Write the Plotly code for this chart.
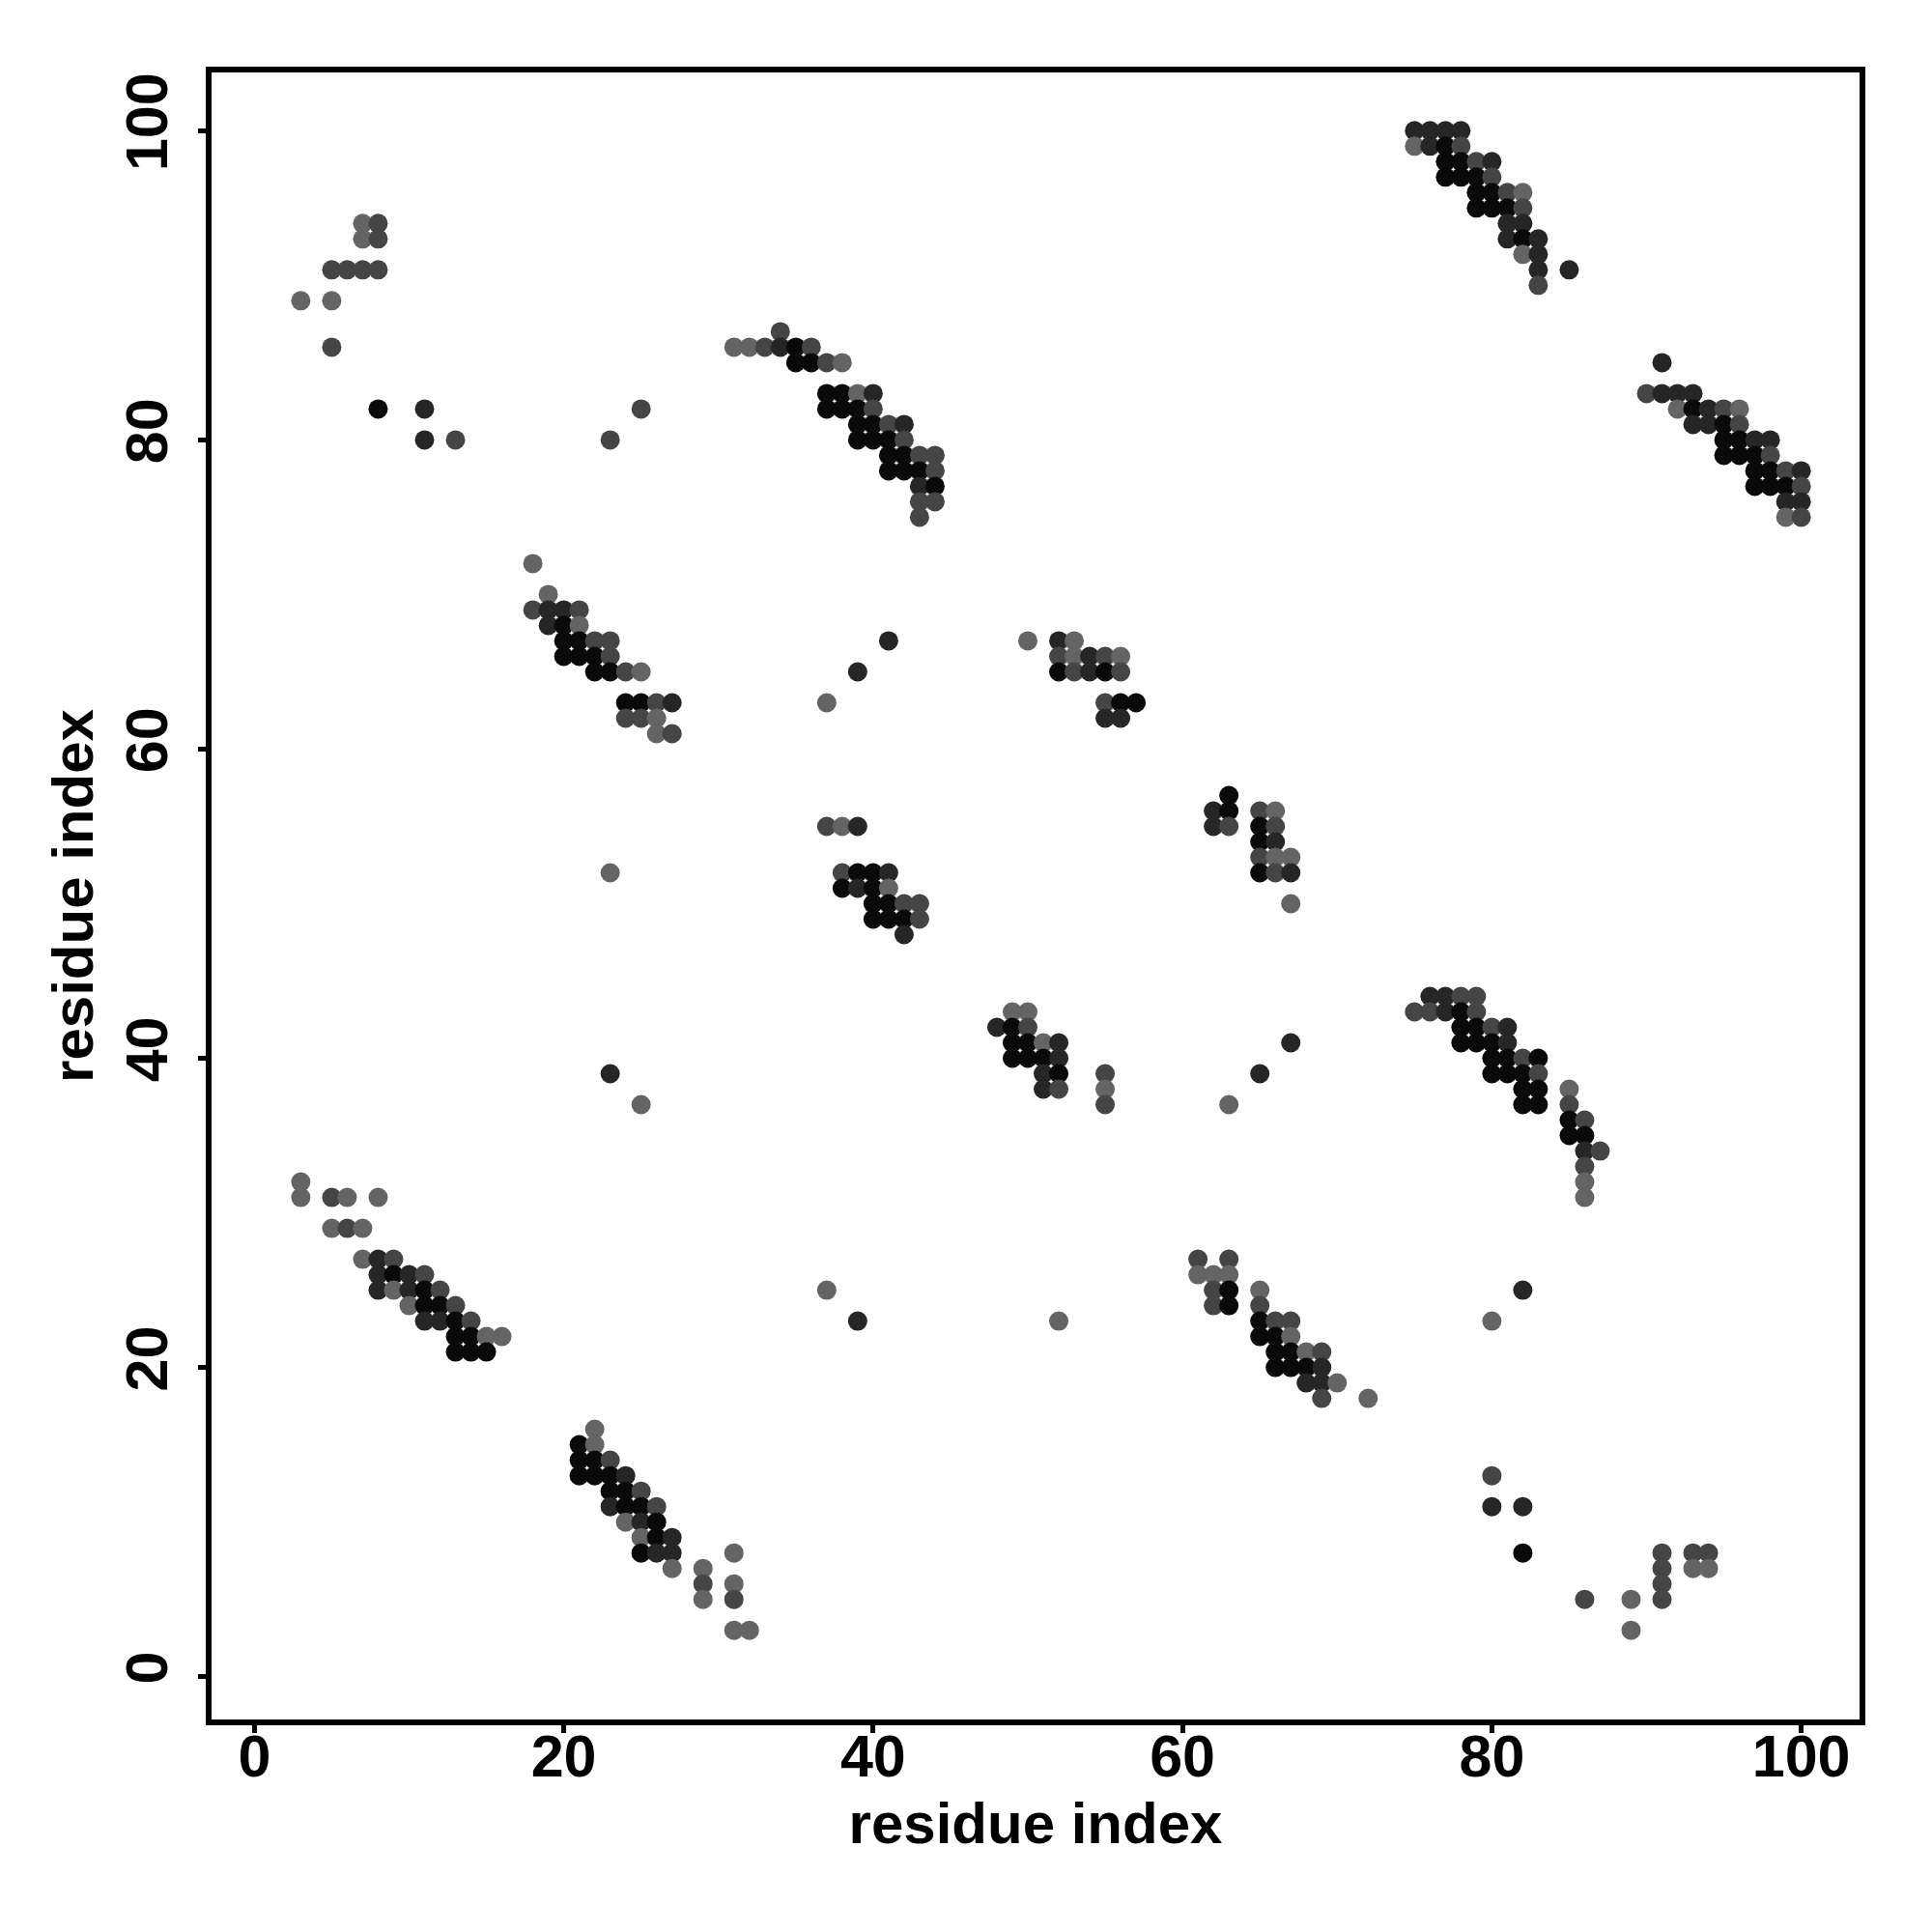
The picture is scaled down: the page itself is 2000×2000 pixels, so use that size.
import plotly.graph_objects as go

# Contact map: (residue i, residue j, contact strength level 1..4; 4 = strongest / darkest)
top_left_contacts = [
    (7, 94, 1), (8, 94, 2), (7, 93, 1), (8, 93, 2),
    (5, 91, 2), (6, 91, 2), (7, 91, 2), (8, 91, 2),
    (3, 89, 1), (5, 89, 1), (5, 86, 2),
    (8, 82, 4), (11, 82, 3), (11, 80, 3), (13, 80, 2),
    (25, 82, 2), (23, 80, 2),
]

cluster_a = [
    (18, 72, 1), (19, 70, 1),
    (18, 69, 2), (19, 69, 3), (20, 69, 3), (21, 69, 2),
    (19, 68, 3), (20, 68, 4), (21, 68, 1),
    (20, 67, 4), (21, 67, 4), (22, 67, 2), (23, 67, 2),
    (20, 66, 4), (21, 66, 4), (22, 66, 4), (23, 66, 2),
    (22, 65, 4), (23, 65, 4), (24, 65, 2), (25, 65, 1),
    (24, 63, 4), (25, 63, 4), (26, 63, 2), (27, 63, 3),
    (24, 62, 2), (25, 62, 2), (26, 62, 1),
    (26, 61, 1), (27, 61, 2),
]

cluster_b = [
    (34, 87, 2),
    (31, 86, 1), (32, 86, 1), (33, 86, 2), (34, 86, 3), (35, 86, 4), (36, 86, 2),
    (35, 85, 4), (36, 85, 4), (37, 85, 2), (38, 85, 1),
    (37, 83, 4), (38, 83, 4), (39, 83, 1), (40, 83, 3),
    (37, 82, 4), (38, 82, 4), (39, 82, 4), (40, 82, 2),
    (39, 81, 4), (40, 81, 4), (41, 81, 2), (42, 81, 3),
    (39, 80, 4), (40, 80, 4), (41, 80, 4), (42, 80, 2),
    (41, 79, 4), (42, 79, 4), (43, 79, 2), (44, 79, 2),
    (41, 78, 4), (42, 78, 4), (43, 78, 4), (44, 78, 2),
    (43, 77, 3), (44, 77, 4),
    (43, 76, 2), (44, 76, 2),
    (43, 75, 2),
]

cluster_c = [
    (75, 100, 3), (76, 100, 3), (77, 100, 3), (78, 100, 3),
    (75, 99, 1), (76, 99, 3), (77, 99, 4), (78, 99, 2),
    (77, 98, 4), (78, 98, 4), (79, 98, 2), (80, 98, 3),
    (77, 97, 4), (78, 97, 4), (79, 97, 4), (80, 97, 2),
    (79, 96, 4), (80, 96, 4), (81, 96, 2), (82, 96, 1),
    (79, 95, 4), (80, 95, 4), (81, 95, 4), (82, 95, 2),
    (81, 94, 3), (82, 94, 3),
    (81, 93, 3), (82, 93, 4), (83, 93, 3),
    (82, 92, 1), (83, 92, 3),
    (83, 91, 3), (85, 91, 3),
    (83, 90, 2),
]

cluster_d = [
    (91, 85, 3),
    (90, 83, 2), (91, 83, 3), (92, 83, 3), (93, 83, 3),
    (92, 82, 1), (93, 82, 4), (94, 82, 3), (95, 82, 2), (96, 82, 1),
    (93, 81, 3), (94, 81, 3), (95, 81, 4), (96, 81, 2),
    (95, 80, 4), (96, 80, 4), (97, 80, 3), (98, 80, 3),
    (95, 79, 4), (96, 79, 4), (97, 79, 4), (98, 79, 2),
    (97, 78, 4), (98, 78, 4), (99, 78, 2), (100, 78, 3),
    (97, 77, 4), (98, 77, 4), (99, 77, 4), (100, 77, 2),
    (99, 76, 3), (100, 76, 3),
    (99, 75, 1), (100, 75, 2),
]

middle_contacts = [
    (41, 67, 3), (39, 65, 3), (37, 63, 1),
    (50, 67, 1), (52, 67, 3), (53, 67, 1),
    (52, 66, 2), (53, 66, 1), (54, 66, 3), (55, 66, 2), (56, 66, 1),
    (52, 65, 4), (53, 65, 2), (54, 65, 3), (55, 65, 4), (56, 65, 2),
    (55, 63, 2), (56, 63, 4), (57, 63, 4),
    (55, 62, 3), (56, 62, 3),
    (63, 57, 4),
    (62, 56, 3), (63, 56, 4), (65, 56, 2), (66, 56, 1),
    (62, 55, 3), (63, 55, 2), (65, 55, 4), (66, 55, 2),
    (65, 54, 4), (66, 54, 3),
    (65, 53, 2), (66, 53, 1), (67, 53, 1),
    (65, 52, 4), (66, 52, 2), (67, 52, 3),
    (67, 50, 1),
    (37, 55, 2), (38, 55, 1), (39, 55, 3),
    (38, 52, 2), (39, 52, 4), (40, 52, 4), (41, 52, 3),
    (38, 51, 4), (39, 51, 3), (40, 51, 4), (41, 51, 1),
    (40, 50, 4), (41, 50, 4), (42, 50, 2), (43, 50, 2),
    (40, 49, 4), (41, 49, 4), (42, 49, 4), (43, 49, 2),
    (42, 48, 3),
    (49, 43, 1), (50, 43, 1),
    (48, 42, 3), (49, 42, 4), (50, 42, 2),
    (49, 41, 4), (50, 41, 4), (51, 41, 1), (52, 41, 3),
    (49, 40, 4), (50, 40, 4), (51, 40, 4), (52, 40, 3),
    (51, 39, 3), (52, 39, 4), (55, 39, 2),
    (51, 38, 3), (52, 38, 2), (55, 38, 1),
    (55, 37, 2), (63, 37, 1),
    (67, 41, 3), (65, 39, 3),
    (23, 52, 1), (23, 39, 3), (25, 37, 1),
]

cluster_e = [
    (76, 44, 3), (77, 44, 3), (78, 44, 2), (79, 44, 2),
    (75, 43, 2), (76, 43, 2), (77, 43, 3), (78, 43, 4), (79, 43, 2),
    (78, 42, 4), (79, 42, 4), (80, 42, 2), (81, 42, 3),
    (78, 41, 4), (79, 41, 4), (80, 41, 4), (81, 41, 3),
    (80, 40, 4), (81, 40, 4), (82, 40, 2), (83, 40, 4),
    (80, 39, 4), (81, 39, 4), (82, 39, 4), (83, 39, 2),
    (82, 38, 4), (83, 38, 4), (85, 38, 1),
    (82, 37, 4), (83, 37, 4), (85, 37, 2),
    (85, 36, 4), (86, 36, 2),
    (85, 35, 4), (86, 35, 4),
    (86, 34, 3), (87, 34, 2),
    (86, 33, 2), (86, 32, 1), (86, 31, 1),
]

cluster_f = [
    (3, 32, 1),
    (3, 31, 1), (5, 31, 2), (6, 31, 1), (8, 31, 1),
    (5, 29, 1), (6, 29, 2), (7, 29, 1),
    (7, 27, 1), (8, 27, 3), (9, 27, 2),
    (8, 26, 3), (9, 26, 4), (10, 26, 3), (11, 26, 2),
    (8, 25, 3), (9, 25, 1), (10, 25, 3), (11, 25, 4), (12, 25, 2),
    (10, 24, 1), (11, 24, 4), (12, 24, 4), (13, 24, 2),
    (11, 23, 3), (12, 23, 3), (13, 23, 4), (14, 23, 2),
    (13, 22, 4), (14, 22, 4), (15, 22, 1), (16, 22, 1),
    (13, 21, 4), (14, 21, 4), (15, 21, 4),
]

cluster_g = [
    (22, 16, 1),
    (21, 15, 4), (22, 15, 1),
    (21, 14, 4), (22, 14, 4), (23, 14, 2),
    (21, 13, 4), (22, 13, 4), (23, 13, 4), (24, 13, 3),
    (23, 12, 4), (24, 12, 4), (25, 12, 2),
    (23, 11, 3), (24, 11, 4), (25, 11, 4), (26, 11, 2),
    (24, 10, 1), (25, 10, 3), (26, 10, 4),
    (25, 9, 1), (26, 9, 4), (27, 9, 3),
    (25, 8, 4), (26, 8, 3), (27, 8, 3), (31, 8, 1),
    (27, 7, 1), (29, 7, 1),
    (29, 6, 2), (31, 6, 1),
    (29, 5, 1), (31, 5, 2),
    (31, 3, 1), (32, 3, 1),
]

cluster_h = [
    (37, 25, 1), (39, 23, 3), (52, 23, 1),
    (61, 27, 2), (63, 27, 2),
    (61, 26, 1), (62, 26, 1), (63, 26, 1),
    (62, 25, 2), (63, 25, 4), (65, 25, 1),
    (62, 24, 2), (63, 24, 4), (65, 24, 2),
    (65, 23, 4), (66, 23, 2), (67, 23, 2),
    (65, 22, 4), (66, 22, 4), (67, 22, 1),
    (66, 21, 4), (67, 21, 4), (68, 21, 1), (69, 21, 2),
    (66, 20, 4), (67, 20, 4), (68, 20, 4), (69, 20, 3),
    (68, 19, 3), (69, 19, 3), (70, 19, 1),
    (69, 18, 2), (72, 18, 1),
]

bottom_right_contacts = [
    (82, 25, 3), (80, 23, 1),
    (80, 13, 2), (80, 11, 3), (82, 11, 3), (82, 8, 4),
    (91, 8, 2), (93, 8, 2), (94, 8, 2),
    (91, 7, 2), (93, 7, 1), (94, 7, 1),
    (91, 6, 2),
    (86, 5, 2), (89, 5, 1), (91, 5, 2),
    (89, 3, 1),
]

tick_values = [0, 20, 40, 60, 80, 100]
axis_title = "residue index"

groups = [top_left_contacts, cluster_a, cluster_b, cluster_c, cluster_d,
          middle_contacts, cluster_e, cluster_f, cluster_g, cluster_h,
          bottom_right_contacts]
res_i = [p[0] for g in groups for p in g]
res_j = [p[1] for g in groups for p in g]
level = [p[2] for g in groups for p in g]

gray_scale = [[0.0, "#646464"], [1 / 3, "#454545"], [2 / 3, "#262626"], [1.0, "#0a0a0a"]]

fig = go.Figure(
    go.Scatter(
        x=res_i, y=res_j, mode="markers",
        marker=dict(size=20, color=level, colorscale=gray_scale, cmin=1, cmax=4,
                    line=dict(width=0), opacity=1),
        showlegend=False, hoverinfo="x+y",
    )
)

font_family = "Liberation Sans, Arial, Helvetica, sans-serif"
axis_common = dict(
    range=[-2.77, 103.77],
    tickvals=tick_values,
    showgrid=False, zeroline=False,
    showline=True, linewidth=6, linecolor="black", mirror=True,
    ticks="outside", ticklen=8, tickwidth=5, tickcolor="black",
    tickfont=dict(family=font_family, size=61, color="black", weight="bold"),
)

fig.update_layout(
    width=1992, height=1992,
    margin=dict(l=211, r=75, t=67, b=220),
    paper_bgcolor="white", plot_bgcolor="white",
    xaxis=dict(**axis_common, ticklabelstandoff=-28,
               title=dict(text=axis_title, standoff=17,
                          font=dict(family=font_family, size=60, color="black", weight="bold"))),
    yaxis=dict(**axis_common, tickangle=-90, ticklabelstandoff=8,
               title=dict(text=axis_title, standoff=4,
                          font=dict(family=font_family, size=60, color="black", weight="bold"))),
)

fig.write_html("out.html")
